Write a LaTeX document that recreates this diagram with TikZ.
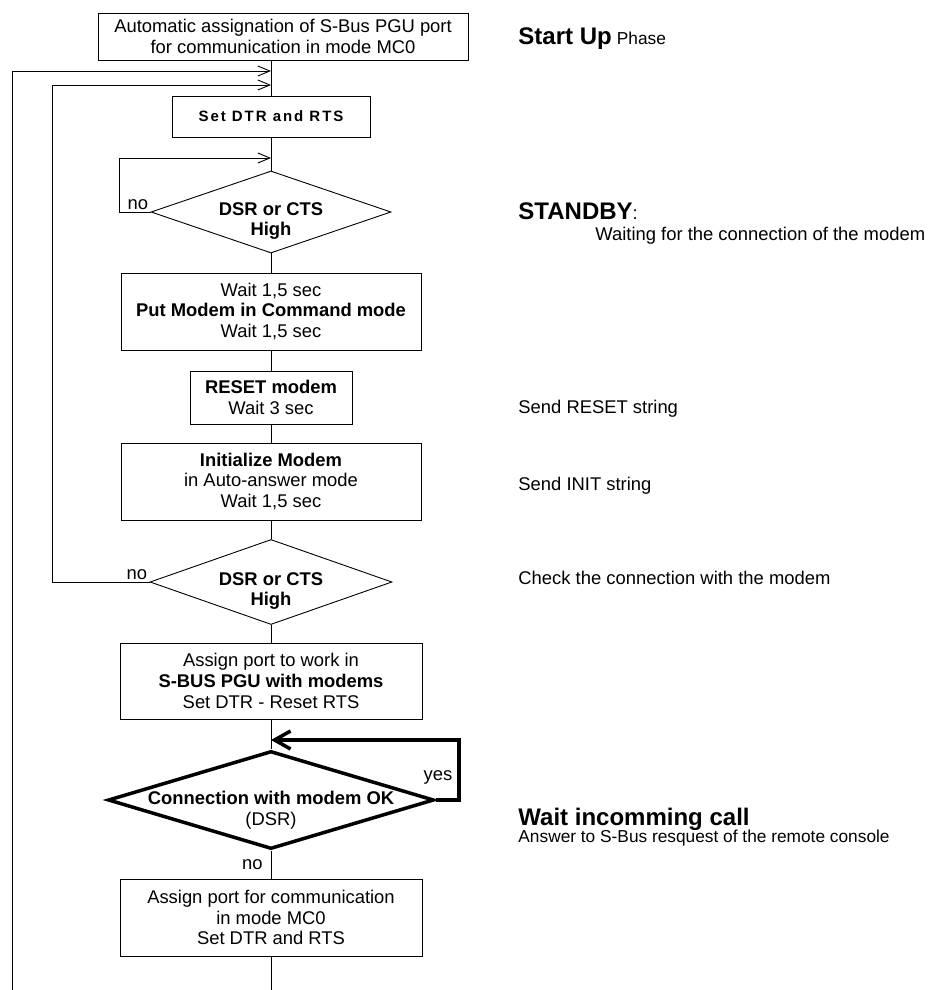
\documentclass[tikz,border=0pt]{standalone}
\usepackage{fontspec}
\setmainfont{Liberation Sans}
\usetikzlibrary{shapes.geometric,arrows.meta,positioning,calc}
\newcommand{\txtsize}{\fontsize{18.4}{20.6}\selectfont}
\newcommand{\smallsize}{\fontsize{17.3}{19}\selectfont}
\newcommand{\headsize}{\fontsize{24}{26}\selectfont}
\newcommand{\spacedsize}{\fontsize{15}{17}\selectfont\bfseries\addfontfeature{LetterSpace=13}}

\begin{document}
\begin{tikzpicture}[x=1pt,y=-1pt,line width=0.9pt,
        stepbox/.style={draw,align=center,inner sep=0pt,font=\txtsize},
        decision/.style={diamond,draw,inner sep=0pt},
        dtext/.style={align=center,inner sep=0pt,font=\txtsize},
        backarrow/.style={-{Straight Barb[length=12pt,width=10pt]}},
        yesarrow/.style={line width=3.5pt,-{Straight Barb[length=16pt,width=18pt]}},
        lbl/.style={inner sep=3pt,font=\txtsize},
        note/.style={anchor=base west,inner sep=0pt,font=\txtsize}]
        \useasboundingbox (0,0) rectangle (931,990);
        % flow column
        \node[stepbox,minimum width=370,minimum height=47] (start) at (283,36.5)
          {Automatic assignation of S-Bus PGU port\\for communication in mode MC0};
        \node[stepbox,minimum width=198,minimum height=41,font=\spacedsize] (setdtr) at (271,116.5)
          {Set DTR and RTS};
        \node[decision,minimum width=240,minimum height=82] (dsr1) at (271,212) {};
        \node[dtext] (dsr1t) at ([yshift=-9pt]dsr1.center) {\textbf{DSR or CTS}\\\textbf{High}};
        \node[stepbox,minimum width=300,minimum height=77] (cmd) at (271,311.5)
          {Wait 1,5 sec\\\textbf{Put Modem in Command mode}\\Wait 1,5 sec};
        \node[stepbox,minimum width=162,minimum height=53] (reset) at (271,397.5)
          {\textbf{RESET modem}\\Wait 3 sec};
        \node[stepbox,minimum width=300,minimum height=77] (init) at (271,481.5)
          {\textbf{Initialize Modem}\\in Auto-answer mode\\Wait 1,5 sec};
        \node[decision,minimum width=242,minimum height=85] (dsr2) at (271,582) {};
        \node[dtext] (dsr2t) at ([yshift=-9pt]dsr2.center) {\textbf{DSR or CTS}\\\textbf{High}};
        \node[stepbox,minimum width=302,minimum height=76] (sbus) at (271,681)
          {Assign port to work in\\\textbf{S-BUS PGU with modems}\\Set DTR - Reset RTS};
        \node[decision,line width=3.5pt,minimum width=326,minimum height=98] (conn) at (271,800) {};
        \node[dtext] (connt) at ([yshift=-10pt]conn.center) {\textbf{Connection with modem OK}\\(DSR)};
        \node[stepbox,minimum width=302,minimum height=77] (mc0) at (271,917.5)
          {Assign port for communication\\in mode MC0\\Set DTR and RTS};

        % joints of the loops
        \coordinate (j1) at (271,71);
        \coordinate (j2) at (271,85);
        \coordinate (j3) at (271,158);
        \coordinate (j4) at (271,740);
        \coordinate (k1) at (119,158);
        \coordinate (k2) at (52,85);
        \coordinate (k3) at (12,71);
        \coordinate (k4) at (12,990);
        \coordinate (r1) at (459,800);
        \coordinate (r2) at (459,740);
        \coordinate (bot) at (271,990);

        % straight flow
        \draw (start.south -| setdtr.north) -- (setdtr.north);
        \draw (setdtr.south) -- (dsr1.north);
        \draw (dsr1.south) -- (cmd.north);
        \draw (cmd.south) -- (reset.north);
        \draw (reset.south) -- (init.north);
        \draw (init.south) -- (dsr2.north);
        \draw (dsr2.south) -- (sbus.north);
        \draw (sbus.south) -- (conn.north);
        \draw (conn.south) -- node[lbl,left,inner sep=8pt] (no3) {no} (mc0.north);
        \draw (mc0.south) -- (bot);

        % loops back
        \draw[backarrow] (dsr1.west) node[lbl,above left,inner sep=2pt] (no1) {no} -| (k1) -- (j3);
        \draw[backarrow] (dsr2.west) node[lbl,above left,inner sep=2pt] (no2) {no} -| (k2) -- (j2);
        \draw[backarrow] (k4) -- (k3) -- (j1);
        \draw[yesarrow] (conn.east) -- (r1) -- node[lbl,left,pos=0.37,inner sep=5pt] (yes) {yes} (r2) -- (j4);

        % phase notes
        \node[note] (phase) at (518,45) {{\headsize\bfseries Start Up} {\smallsize Phase}};
        \node[note] (standby) at (518,219) {{\headsize\bfseries STANDBY}:};
        \node[note] (waiting) at (595,240) {Waiting for the connection of the modem};
        \node[note] (sendreset) at (518,413) {Send RESET string};
        \node[note] (sendinit) at (518,490) {Send INIT string};
        \node[note] (check) at (518,584) {Check the connection with the modem};
        \node[note] (incall) at (518,825) {\headsize\bfseries Wait incomming call};
        \node[note,font=\smallsize] (answer) at (518,842) {Answer to S-Bus resquest of the remote console};
\end{tikzpicture}
\end{document}
